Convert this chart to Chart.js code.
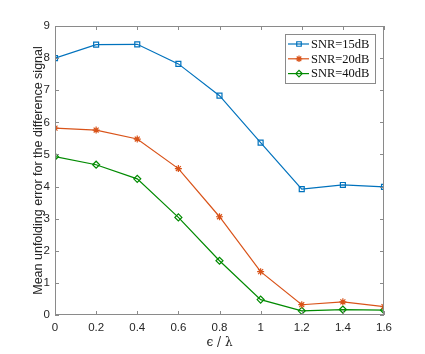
<!DOCTYPE html>
<html>
<head>
<meta charset="utf-8">
<script src="https://cdn.jsdelivr.net/npm/chart.js@4"></script>
<style>
  html, body { margin: 0; padding: 0; background: #fff; }
  #wrap { width: 425px; height: 354px; }
</style>
</head>
<body>
<div id="wrap"><canvas id="errChart" width="425" height="354"></canvas></div>
<script>
const ratios = [0, 0.2, 0.4, 0.6, 0.8, 1.0, 1.2, 1.4, 1.6];
const snr15 = [8.00, 8.42, 8.43, 7.82, 6.83, 5.37, 3.92, 4.05, 3.99];
const snr20 = [5.82, 5.76, 5.48, 4.56, 3.06, 1.35, 0.32, 0.41, 0.26];
const snr40 = [4.93, 4.68, 4.24, 3.04, 1.69, 0.48, 0.13, 0.17, 0.15];
const xTicks = [0, 0.2, 0.4, 0.6, 0.8, 1, 1.2, 1.4, 1.6];
const yTicks = [0, 1, 2, 3, 4, 5, 6, 7, 8, 9];

const toPts = ys => ys.map((y, i) => ({ x: ratios[i], y: y }));
const axisGrey = "#8a8a8a";
const textGrey = "#262626";

function series(label, ys, color, style, fill) {
  return {
    label: label,
    data: toPts(ys),
    showLine: true,
    borderColor: color,
    borderWidth: 1.2,
    pointStyle: style,
    pointRadius: 3.5,
    pointBorderColor: color,
    pointBackgroundColor: fill,
    pointBorderWidth: 1.2
  };
}

// MATLAB-like box with inward ticks on all sides, plus legend inside the plot
const boxPlugin = {
  id: "box",
  afterDraw(chart) {
    const { ctx, chartArea: a, scales } = chart;
    const xs = scales.x, ys = scales.y;
    ctx.save();
    ctx.strokeStyle = axisGrey;
    ctx.lineWidth = 1;
    ctx.strokeRect(a.left + 0.5, a.top + 0.5, a.right - a.left - 1, a.bottom - a.top - 1);
    ctx.beginPath();
    xTicks.forEach(v => {
      const px = Math.round(xs.getPixelForValue(v)) + 0.5;
      ctx.moveTo(px, a.bottom); ctx.lineTo(px, a.bottom - 4);
      ctx.moveTo(px, a.top); ctx.lineTo(px, a.top + 4);
    });
    yTicks.forEach(v => {
      const py = Math.round(ys.getPixelForValue(v)) + 0.5;
      ctx.moveTo(a.left, py); ctx.lineTo(a.left + 4, py);
      ctx.moveTo(a.right, py); ctx.lineTo(a.right - 4, py);
    });
    ctx.stroke();

    // legend
    const lx = 285, ly = 34, lw = 90, lh = 49;
    ctx.fillStyle = "#fff";
    ctx.fillRect(lx, ly, lw, lh);
    ctx.strokeStyle = "#8a8a8a";
    ctx.strokeRect(lx + 0.5, ly + 0.5, lw, lh);
    ctx.font = "12.5px 'Liberation Serif', 'DejaVu Serif', serif";
    ctx.textBaseline = "middle";
    chart.data.datasets.forEach((ds, i) => {
      const yy = ly + 10 + i * 14.8;
      ctx.strokeStyle = ds.borderColor;
      ctx.lineWidth = 1.2;
      ctx.beginPath();
      ctx.moveTo(lx + 3, yy); ctx.lineTo(lx + 24, yy);
      ctx.stroke();
      ctx.fillStyle = ds.pointBackgroundColor;
      ctx.strokeStyle = ds.borderColor;
      Chart.helpers.drawPoint(ctx, {
        pointStyle: ds.pointStyle, radius: 3.2, rotation: 0, borderWidth: 1.2
      }, lx + 14, yy);
      ctx.fillStyle = "#111";
      ctx.fillText(ds.label, lx + 26, yy + 0.5);
    });
    ctx.restore();
  }
};

new Chart(document.getElementById("errChart"), {
  type: "scatter",
  data: {
    datasets: [
      series("SNR=15dB", snr15, "#0072BD", "rect", "rgba(255,255,255,0)"),
      series("SNR=20dB", snr20, "#D95319", "star", "#D95319"),
      series("SNR=40dB", snr40, "#008a00", "rectRot", "rgba(255,255,255,0)")
    ]
  },
  options: {
    responsive: false,
    animation: false,
    layout: { padding: { top: 26, right: 41, left: 31, bottom: 0 } },
    plugins: {
      legend: { display: false },
      tooltip: { enabled: false }
    },
    scales: {
      x: {
        type: "linear",
        min: 0, max: 1.6,
        afterBuildTicks: s => { s.ticks = xTicks.map(v => ({ value: v })); },
        afterFit: s => { s.height = 39; },
        grid: { display: false, drawTicks: false },
        border: { display: false },
        ticks: {
          padding: 6,
          color: textGrey,
          font: { family: "'Liberation Sans', Arial, sans-serif", size: 11.5 },
          callback: v => String(v)
        },
        title: {
          display: true,
          text: "ϵ / λ",
          color: textGrey,
          padding: { top: 0, bottom: 4 },
          font: { family: "'DejaVu Serif', 'Liberation Serif', serif", size: 12 }
        }
      },
      y: {
        min: 0, max: 9,
        afterBuildTicks: s => { s.ticks = yTicks.map(v => ({ value: v })); },
        afterFit: s => { s.width = 24; },
        grid: { display: false, drawTicks: false },
        border: { display: false },
        ticks: {
          padding: 5,
          color: textGrey,
          font: { family: "'Liberation Sans', Arial, sans-serif", size: 11.5 }
        },
        title: {
          display: true,
          text: "Mean unfolding error for the difference signal",
          color: textGrey,
          padding: { top: 0, bottom: 0 },
          font: { family: "'Liberation Sans', Arial, sans-serif", size: 12.5 }
        }
      }
    }
  },
  plugins: [boxPlugin]
});
</script>
</body>
</html>
